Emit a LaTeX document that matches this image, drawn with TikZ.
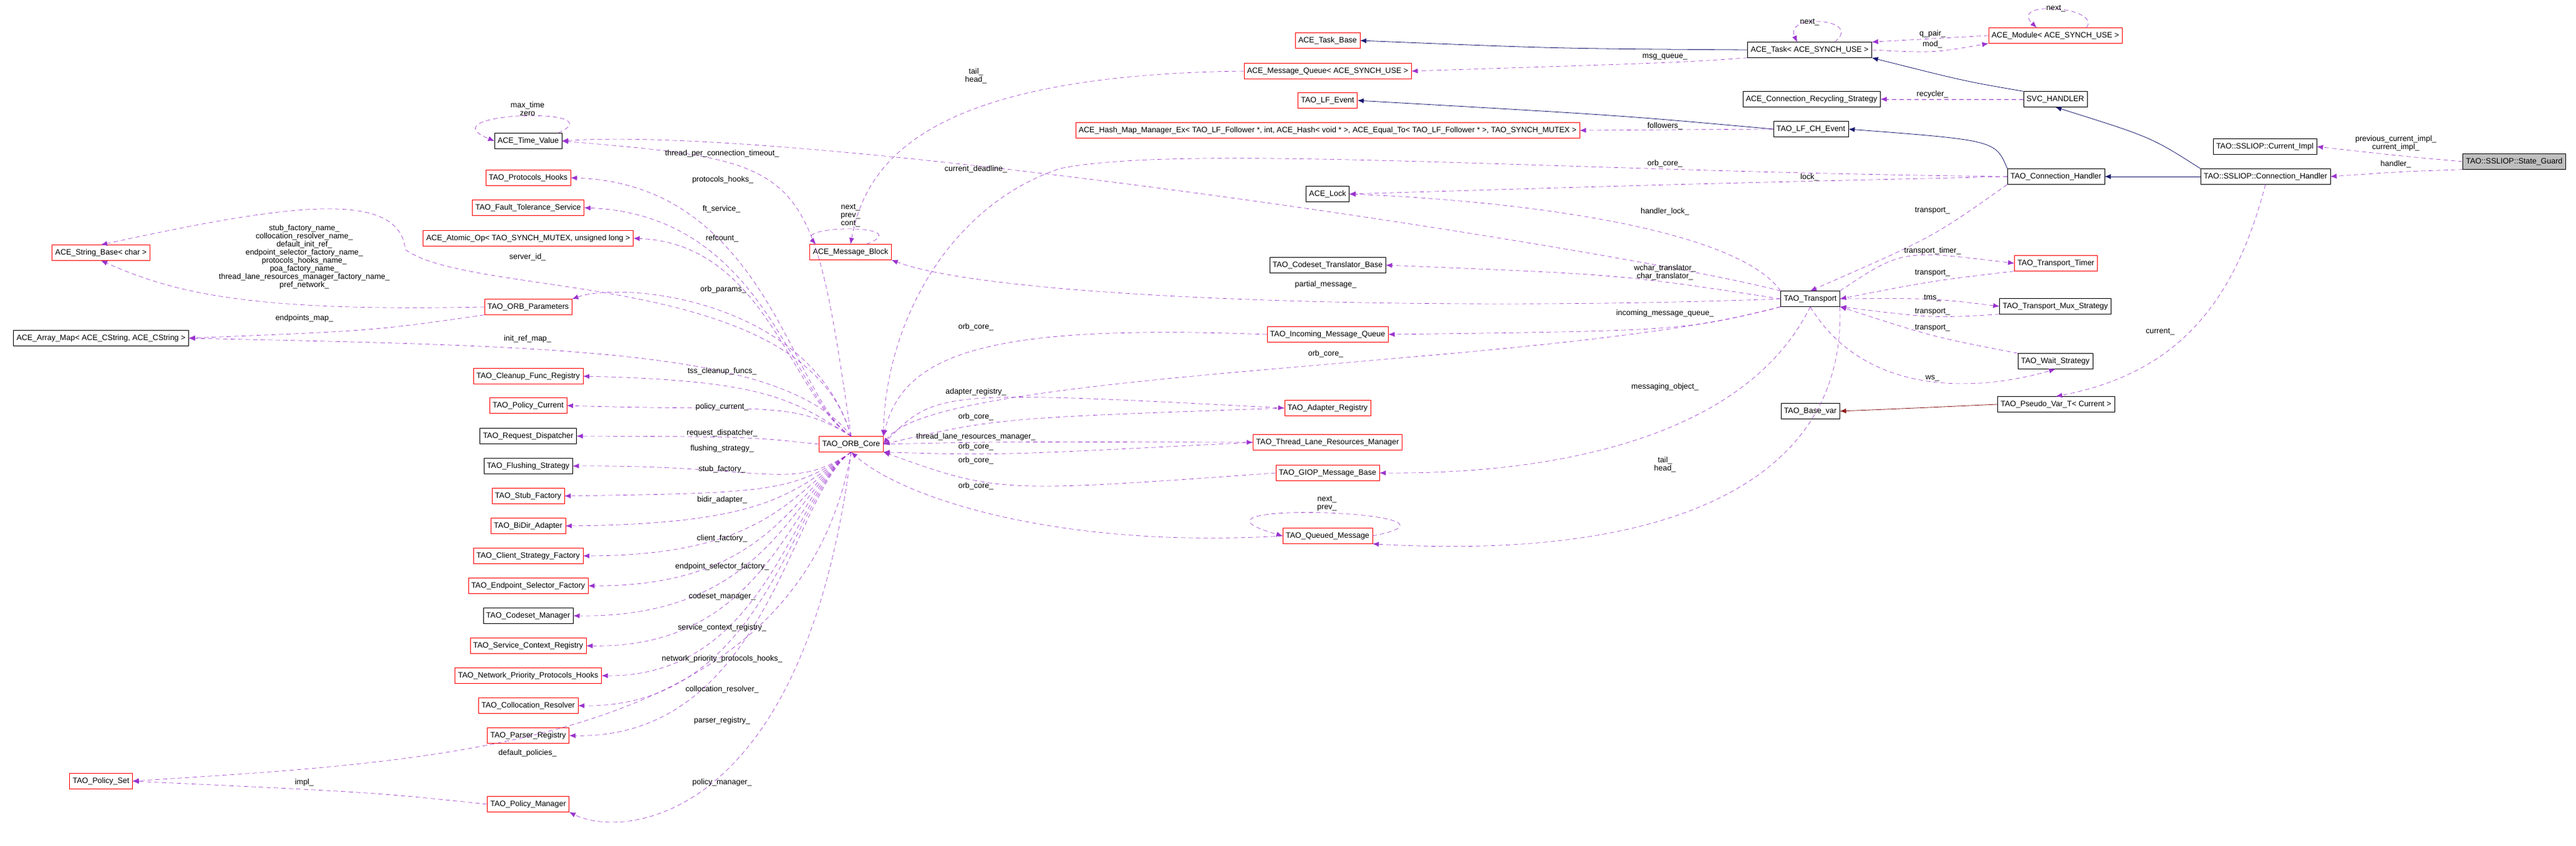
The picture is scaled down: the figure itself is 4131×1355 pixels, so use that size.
\documentclass[tikz,border=0pt]{standalone}
\usepackage{fontspec}
\setmainfont{Liberation Sans}
\usetikzlibrary{arrows.meta}
\newcommand{\fs}{\fontsize{12.5}{13}\selectfont}
\definecolor{usecol}{HTML}{9A32CD}
\definecolor{inhcol}{HTML}{191970}
\definecolor{tplcol}{HTML}{8B1A1A}
\tikzset{
  cls/.style={draw=red, fill=white, minimum height=25, inner xsep=5, inner ysep=2, font=\fs},
  clsb/.style={cls, draw=black},
  use/.style={usecol, dash pattern=on 7pt off 5pt, semithick, -{Latex[length=10,width=8]}},
  inh/.style={inhcol, thick, -{Latex[length=10,width=8]}},
  tpl/.style={tplcol, thick, -{Latex[length=10,width=8]}},
  lbl/.style={font=\fs, inner sep=0, align=center}
}
\begin{document}
\begin{tikzpicture}[x=1pt,y=-1pt]
\useasboundingbox (0,0) rectangle (4131,1355);
% left column
\node[clsb] (tv) at (847,226) {ACE\_Time\_Value};
\node[cls] (proth) at (847,285) {TAO\_Protocols\_Hooks};
\node[cls] (ftserv) at (847,333) {TAO\_Fault\_Tolerance\_Service};
\node[cls] (atomic) at (847,382) {ACE\_Atomic\_Op< TAO\_SYNCH\_MUTEX, unsigned long >};
\node[cls] (strbase) at (162,405) {ACE\_String\_Base< char >};
\node[cls] (orbparams) at (847,492) {TAO\_ORB\_Parameters};
\node[clsb] (arraymap) at (162,542) {ACE\_Array\_Map< ACE\_CString, ACE\_CString >};
\node[cls] (cleanup) at (847,603) {TAO\_Cleanup\_Func\_Registry};
\node[cls] (polcur) at (847,650) {TAO\_Policy\_Current};
\node[clsb] (reqdisp) at (847,699) {TAO\_Request\_Dispatcher};
\node[clsb] (flush) at (847,747) {TAO\_Flushing\_Strategy};
\node[cls] (stubf) at (847,795) {TAO\_Stub\_Factory};
\node[cls] (bidir) at (847,843) {TAO\_BiDir\_Adapter};
\node[cls] (clientf) at (847,891) {TAO\_Client\_Strategy\_Factory};
\node[cls] (epsel) at (847,939) {TAO\_Endpoint\_Selector\_Factory};
\node[clsb] (codeset) at (847,987) {TAO\_Codeset\_Manager};
\node[cls] (svcctx) at (847,1035) {TAO\_Service\_Context\_Registry};
\node[cls] (netprio) at (847,1083) {TAO\_Network\_Priority\_Protocols\_Hooks};
\node[cls] (colloc) at (847,1131) {TAO\_Collocation\_Resolver};
\node[cls] (parser) at (847,1179) {TAO\_Parser\_Registry};
\node[cls] (polset) at (162,1252) {TAO\_Policy\_Set};
\node[cls] (polmgr) at (847,1289) {TAO\_Policy\_Manager};
\node[cls] (msgblock) at (1364,404) {ACE\_Message\_Block};
\node[cls] (orb) at (1365,712) {TAO\_ORB\_Core};
% middle column
\node[cls] (taskbase) at (2129,65) {ACE\_Task\_Base};
\node[cls] (msgq) at (2129,114) {ACE\_Message\_Queue< ACE\_SYNCH\_USE >};
\node[cls] (lfevent) at (2129,161) {TAO\_LF\_Event};
\node[cls] (hashmap) at (2129,209) {ACE\_Hash\_Map\_Manager\_Ex< TAO\_LF\_Follower *, int, ACE\_Hash< void * >, ACE\_Equal\_To< TAO\_LF\_Follower * >, TAO\_SYNCH\_MUTEX >};
\node[clsb] (acelock) at (2129,311) {ACE\_Lock};
\node[clsb] (cstrans) at (2129,425) {TAO\_Codeset\_Translator\_Base};
\node[cls] (inmq) at (2129,536) {TAO\_Incoming\_Message\_Queue};
\node[cls] (adreg) at (2129,654) {TAO\_Adapter\_Registry};
\node[cls] (tlrm) at (2129,709) {TAO\_Thread\_Lane\_Resources\_Manager};
\node[cls] (giop) at (2129,758) {TAO\_GIOP\_Message\_Base};
\node[cls] (queued) at (2129,859) {TAO\_Queued\_Message};
% right part
\node[clsb] (task) at (2902,80) {ACE\_Task< ACE\_SYNCH\_USE >};
\node[cls] (module) at (3296,57) {ACE\_Module< ACE\_SYNCH\_USE >};
\node[clsb] (recyc) at (2905,159) {ACE\_Connection\_Recycling\_Strategy};
\node[clsb] (svch) at (3296,159) {SVC\_HANDLER};
\node[clsb] (lfch) at (2904,207) {TAO\_LF\_CH\_Event};
\node[clsb] (connh) at (3297,283) {TAO\_Connection\_Handler};
\node[clsb] (curimpl) at (3632,235) {TAO::SSLIOP::Current\_Impl};
\node[clsb, fill=black!25] (guard) at (4032,259) {TAO::SSLIOP::State\_Guard};
\node[clsb] (sslch) at (3633,283) {TAO::SSLIOP::Connection\_Handler};
\node[clsb] (transport) at (2903,479) {TAO\_Transport};
\node[cls] (ttimer) at (3297,422) {TAO\_Transport\_Timer};
\node[clsb] (mux) at (3296,491) {TAO\_Transport\_Mux\_Strategy};
\node[clsb] (wait) at (3296,579) {TAO\_Wait\_Strategy};
\node[clsb] (pseudo) at (3297,648) {TAO\_Pseudo\_Var\_T< Current >};
\node[clsb] (basevar) at (2903,659) {TAO\_Base\_var};

% inheritance
\draw[inh] (task.west) .. controls (2500,78) .. (taskbase.east);
\draw[inh] (svch.north west) .. controls (3150,130) .. (task.south east);
\draw[inh] (lfch.west) .. controls (2600,185) .. (lfevent.east);
\draw[inh] (connh.north west) .. controls (3200,225) .. (lfch.east);
\draw[inh] (sslch.west) -- (connh.east);
\draw[inh] (sslch.north west) .. controls (3450,220) .. (svch.south);
\draw[tpl] (pseudo.west) .. controls (3050,655) .. (basevar.east);

% self loops
\draw[use] ([xshift=-6]tv.north east) .. controls (990,170) and (680,180) .. (tv.west);
\draw[use] ([xshift=-40]msgblock.north east) .. controls (1470,360) and (1280,360) .. ([xshift=10]msgblock.north west);
\draw[use] ([xshift=40]task.north) .. controls (2990,30) and (2860,20) .. ([xshift=-20]task.north);
\draw[use] ([xshift=50]module.north) .. controls (3370,10) and (3220,0) .. ([xshift=-30]module.north);
\draw[use] (queued.east) .. controls (2400,820) and (1850,800) .. (queued.west);

% ORB_Core members
\draw[use] (orb.north) .. controls (1300,260) .. (tv.east);
\foreach \t/\ty in {proth/295,ftserv/345,atomic/390,cleanup/610,polcur/660}
  \draw[use] (orb.north) .. controls (1270,640) and (1230,\ty) .. (\t.east);
\draw[use] (orb.north) .. controls (1290,430) and (760,480) .. (650,400) .. controls (640,300) and (450,330) .. (strbase.north);
\draw[use] (orb.north) .. controls (1300,480) and (1000,450) .. (orbparams.north east);
\draw[use] (orb.north) .. controls (1260,560) and (900,555) .. (arraymap.east);
\draw[use] (orb.west) .. controls (1200,700) .. (reqdisp.east);
\foreach \t/\ty in {flush/745,stubf/790,bidir/840,clientf/890,epsel/940,codeset/990,svcctx/1040,netprio/1085,colloc/1135,parser/1185}
  \draw[use] (orb.south) .. controls (1270,790) and (1230,\ty) .. (\t.east);
\draw[use] (orb.south) .. controls (1280,1200) and (700,1220) .. (polset.east);
\draw[use] (orb.south) .. controls (1290,1320) and (1000,1345) .. (polmgr.south east);
\draw[use] (orbparams.west) .. controls (400,500) and (280,470) .. (strbase.south);
\draw[use] (orbparams.south west) .. controls (600,530) .. (arraymap.east);
\draw[use] (polmgr.west) .. controls (600,1270) .. (polset.east);

% ACE side
\draw[use] (msgq.west) .. controls (1500,120) and (1390,250) .. (msgblock.north);
\draw[use] (task.south west) .. controls (2700,100) .. (msgq.east);
\draw[use] (module.west) -- (task.north east);
\draw[use] (task.east) .. controls (3100,85) .. (module.south west);
\draw[use] (svch.west) -- (recyc.east);
\draw[use] (lfch.west) -- (hashmap.east);
\draw[use] (guard.west) .. controls (3850,250) .. (curimpl.east);
\draw[use] (guard.south west) .. controls (3850,275) .. (sslch.east);
\draw[use] (sslch.south) .. controls (3580,500) and (3480,600) .. (pseudo.north);

% connection handler / transport
\draw[use] (connh.west) .. controls (2500,275) and (1900,230) .. (1700,270) .. controls (1520,330) and (1420,520) .. (orb.north east);
\draw[use] (connh.west) .. controls (2700,295) .. (acelock.east);
\draw[use] (connh.south west) .. controls (3100,380) .. (transport.north);
\draw[use] (transport.north west) .. controls (2780,360) and (2400,320) .. (acelock.east);
\draw[use] (transport.north west) .. controls (2600,400) and (1300,200) .. (tv.east);
\draw[use] (transport.west) .. controls (2600,440) .. (cstrans.east);
\draw[use] (transport.west) .. controls (2300,500) and (1600,480) .. (msgblock.south east);
\draw[use] (transport.south west) .. controls (2700,530) .. (inmq.east);
\draw[use] (inmq.west) .. controls (1600,520) and (1450,560) .. (orb.north east);
\draw[use] (transport.south west) .. controls (2500,590) and (1500,590) .. (orb.east);
\draw[use] (transport.south) .. controls (2800,700) and (2500,760) .. (giop.east);
\draw[use] (transport.south east) .. controls (2960,760) and (2700,900) .. (queued.south east);
\draw[use] (orb.east) .. controls (1500,625) .. (adreg.west);
\draw[use] (adreg.west) .. controls (1600,670) .. (orb.east);
\draw[use] (orb.east) .. controls (1600,708) .. (tlrm.west);
\draw[use] (tlrm.west) .. controls (1600,730) .. (orb.south east);
\draw[use] (giop.west) .. controls (1600,790) .. (orb.south east);
\draw[use] (queued.west) .. controls (1700,880) and (1450,800) .. (orb.south);
\draw[use] (transport.north east) .. controls (3050,400) .. (ttimer.west);
\draw[use] (ttimer.south west) .. controls (3100,450) .. (transport.east);
\draw[use] (transport.east) .. controls (3100,478) .. (mux.west);
\draw[use] (mux.south west) .. controls (3100,510) .. (transport.south east);
\draw[use] (wait.north west) .. controls (3100,540) .. (transport.south east);
\draw[use] (transport.south) .. controls (3000,650) and (3200,620) .. (wait.south);

% edge labels
\node[lbl] (lmaxtime) at (846,175) {max\_time\\zero};
\node[lbl] (ltpct) at (1158,246) {thread\_per\_connection\_timeout\_};
\node[lbl] (lproth) at (1159,288) {protocols\_hooks\_};
\node[lbl] (lft) at (1157,335) {ft\_service\_};
\node[lbl] (lrefc) at (1158,382) {refcount\_};
\node[lbl] (lsrvid) at (846,412) {server\_id\_};
\node[lbl] (lnames) at (488,412) {stub\_factory\_name\_\\collocation\_resolver\_name\_\\default\_init\_ref\_\\endpoint\_selector\_factory\_name\_\\protocols\_hooks\_name\_\\poa\_factory\_name\_\\thread\_lane\_resources\_manager\_factory\_name\_\\pref\_network\_};
\node[lbl] (lorbp) at (1160,464) {orb\_params\_};
\node[lbl] (lepmap) at (488,510) {endpoints\_map\_};
\node[lbl] (lirmap) at (846,543) {init\_ref\_map\_};
\node[lbl] (ltss) at (1158,595) {tss\_cleanup\_funcs\_};
\node[lbl] (lpcur) at (1158,652) {policy\_current\_};
\node[lbl] (lreqd) at (1158,694) {request\_dispatcher\_};
\node[lbl] (lflush) at (1158,719) {flushing\_strategy\_};
\node[lbl] (lstub) at (1158,752) {stub\_factory\_};
\node[lbl] (lbidir) at (1158,801) {bidir\_adapter\_};
\node[lbl] (lclient) at (1158,863) {client\_factory\_};
\node[lbl] (lepsel) at (1158,908) {endpoint\_selector\_factory\_};
\node[lbl] (lcodes) at (1158,956) {codeset\_manager\_};
\node[lbl] (lsvcctx) at (1158,1006) {service\_context\_registry\_};
\node[lbl] (lnetp) at (1158,1056) {network\_priority\_protocols\_hooks\_};
\node[lbl] (lcolloc) at (1158,1105) {collocation\_resolver\_};
\node[lbl] (lparser) at (1158,1155) {parser\_registry\_};
\node[lbl] (ldefpol) at (846,1207) {default\_policies\_};
\node[lbl] (limpl) at (488,1254) {impl\_};
\node[lbl] (lpolmgr) at (1158,1254) {policy\_manager\_};
\node[lbl] (lmbloop) at (1364,346) {next\_\\prev\_\\cont\_};
\node[lbl] (lmqth) at (1565,122) {tail\_\\head\_};
\node[lbl] (lmsgq) at (2670,91) {msg\_queue\_};
\node[lbl] (lfoll) at (2670,202) {followers\_};
\node[lbl] (lcho) at (2670,262) {orb\_core\_};
\node[lbl] (lcdl) at (1565,271) {current\_deadline\_};
\node[lbl] (lhlock) at (2670,339) {handler\_lock\_};
\node[lbl] (ltrans) at (2670,437) {wchar\_translator\_\\char\_translator\_};
\node[lbl] (lpartial) at (2126,456) {partial\_message\_};
\node[lbl] (linmq) at (2670,502) {incoming\_message\_queue\_};
\node[lbl] (limqo) at (1565,524) {orb\_core\_};
\node[lbl] (ltro) at (2126,567) {orb\_core\_};
\node[lbl] (lmsgobj) at (2670,620) {messaging\_object\_};
\node[lbl] (ladreg) at (1565,628) {adapter\_registry\_};
\node[lbl] (laro) at (1565,668) {orb\_core\_};
\node[lbl] (ltlrm) at (1565,700) {thread\_lane\_resources\_manager\_};
\node[lbl] (ltlo) at (1565,716) {orb\_core\_};
\node[lbl] (lgo) at (1565,738) {orb\_core\_};
\node[lbl] (lqo) at (1565,779) {orb\_core\_};
\node[lbl] (lqloop) at (2128,807) {next\_\\prev\_};
\node[lbl] (lqth) at (2670,745) {tail\_\\head\_};
\node[lbl] (ltnext) at (2902,36) {next\_};
\node[lbl] (lmnext) at (3297,14) {next\_};
\node[lbl] (lqpair) at (3099,54) {q\_pair\_};
\node[lbl] (lmod) at (3099,71) {mod\_};
\node[lbl] (lrecyc) at (3099,151) {recycler\_};
\node[lbl] (llock) at (2902,284) {lock\_};
\node[lbl] (lcur) at (3842,230) {previous\_current\_impl\_\\current\_impl\_};
\node[lbl] (lhand) at (3842,263) {handler\_};
\node[lbl] (lct) at (3099,338) {transport\_};
\node[lbl] (lttimer) at (3099,402) {transport\_timer\_};
\node[lbl] (ltt) at (3099,438) {transport\_};
\node[lbl] (ltms) at (3099,478) {tms\_};
\node[lbl] (lmt) at (3099,500) {transport\_};
\node[lbl] (lwt) at (3099,526) {transport\_};
\node[lbl] (lws) at (3099,606) {ws\_};
\node[lbl] (lcurrent) at (3464,532) {current\_};
\end{tikzpicture}
\end{document}
